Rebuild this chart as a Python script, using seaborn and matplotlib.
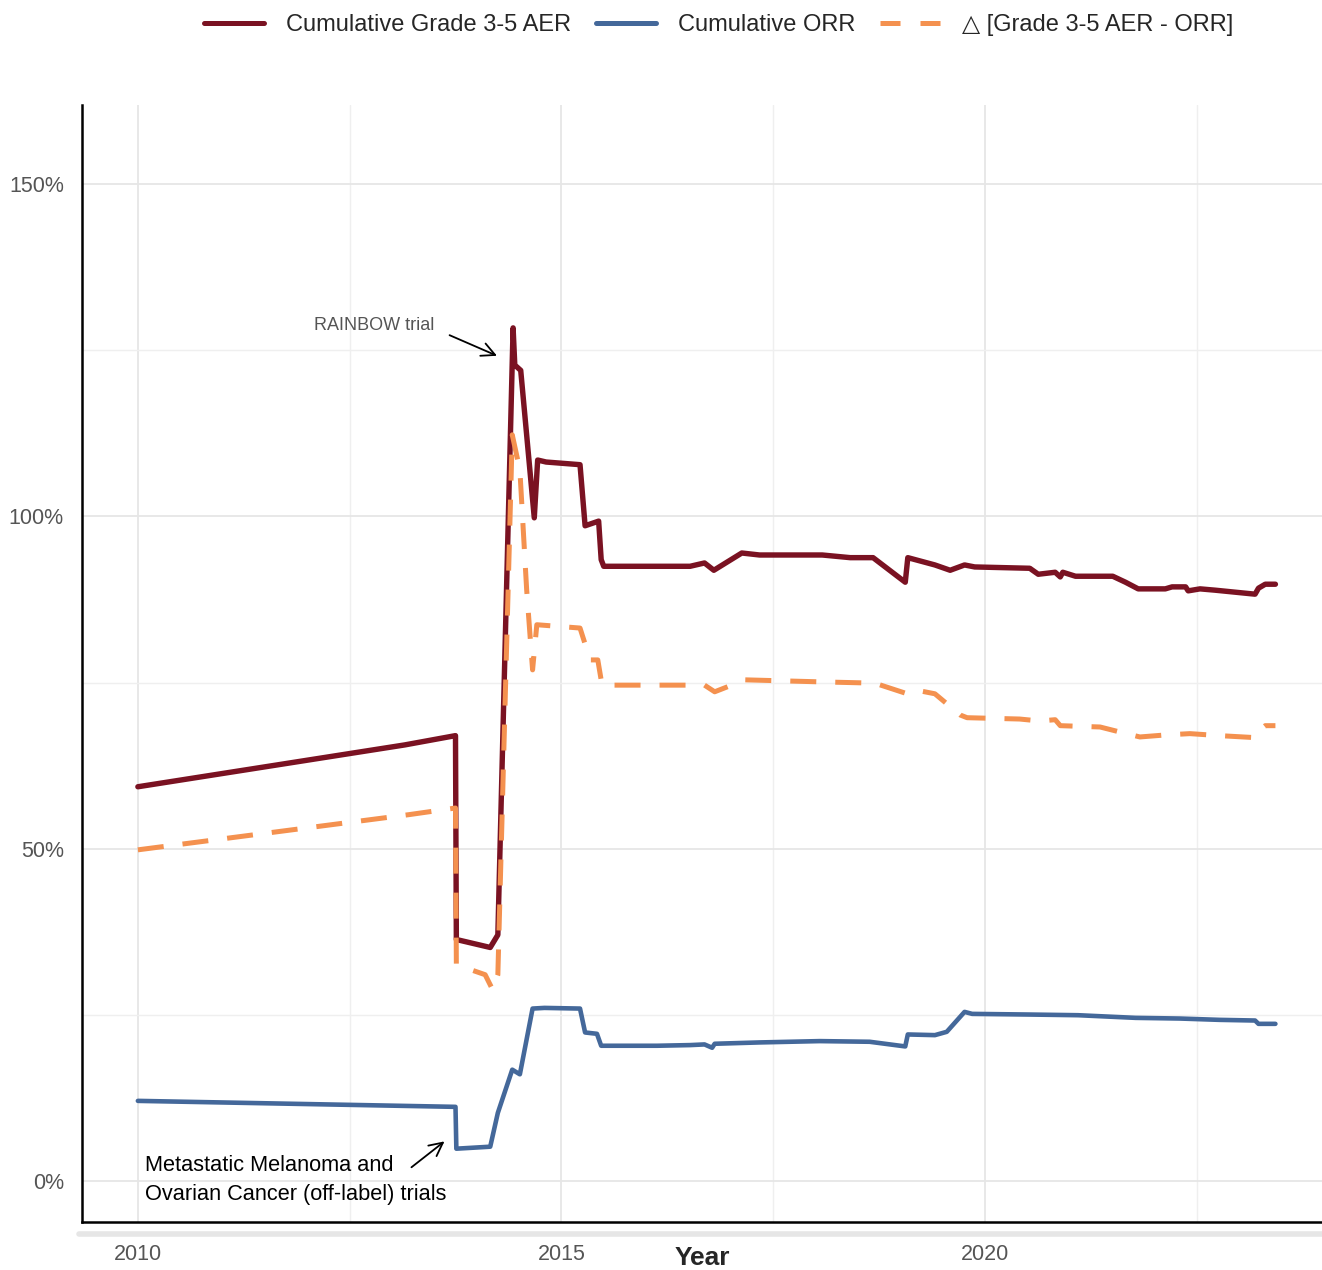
import matplotlib

matplotlib.use("Agg", force=True)
import matplotlib.pyplot as plt
import pandas as pd
import seaborn as sns
from matplotlib.lines import Line2D
from matplotlib.ticker import MultipleLocator, PercentFormatter

# Cumulative Grade 3-5 AER (%)
aer_year = [2010.0, 2013.15, 2013.75, 2013.76, 2014.16, 2014.25, 2014.43, 2014.45, 2014.52,
            2014.68, 2014.72, 2014.82, 2015.22, 2015.28, 2015.44, 2015.47, 2015.50, 2016.52,
            2016.69, 2016.80, 2017.13, 2017.34, 2018.08, 2018.41, 2018.68, 2019.06, 2019.09,
            2019.41, 2019.59, 2019.76, 2019.88, 2020.53, 2020.63, 2020.83, 2020.89, 2020.92,
            2021.07, 2021.51, 2021.66, 2021.81, 2022.13, 2022.21, 2022.37, 2022.40, 2022.54,
            2022.72, 2023.19, 2023.23, 2023.31, 2023.43]
aer_val = [59.3, 65.6, 67.0, 36.3, 35.1, 37.0, 128.4, 122.8, 122.0,
           99.8, 108.5, 108.2, 107.8, 98.6, 99.3, 93.5, 92.5, 92.5,
           93.0, 91.9, 94.5, 94.2, 94.2, 93.8, 93.8, 90.1, 93.8,
           92.7, 91.9, 92.7, 92.4, 92.2, 91.3, 91.6, 90.9, 91.6,
           91.0, 91.0, 90.1, 89.1, 89.1, 89.4, 89.4, 88.8, 89.1,
           88.9, 88.3, 89.2, 89.8, 89.8]

# Cumulative ORR (%)
orr_year = [2010.0, 2013.75, 2013.76, 2014.16, 2014.25, 2014.42, 2014.51, 2014.66, 2014.80,
            2015.22, 2015.28, 2015.42, 2015.47, 2016.13, 2016.52, 2016.69, 2016.78, 2016.81,
            2017.34, 2018.05, 2018.64, 2019.06, 2019.09, 2019.41, 2019.55, 2019.76, 2019.85,
            2020.53, 2021.10, 2021.78, 2022.30, 2022.77, 2023.19, 2023.23, 2023.43]
orr_val = [12.0, 11.1, 4.8, 5.1, 10.2, 16.7, 16.0, 25.9, 26.0,
           25.9, 22.3, 22.1, 20.3, 20.3, 20.4, 20.5, 20.0, 20.6,
           20.8, 21.0, 20.9, 20.2, 22.0, 21.9, 22.4, 25.4, 25.1,
           25.0, 24.9, 24.5, 24.4, 24.2, 24.1, 23.6, 23.6]

# Delta [Grade 3-5 AER - ORR] (%)
delta_year = [2010.0, 2013.2, 2013.75, 2013.76, 2014.10, 2014.19, 2014.25, 2014.42, 2014.51,
              2014.59, 2014.66, 2014.71, 2015.22, 2015.34, 2015.43, 2015.48, 2016.69, 2016.81,
              2017.17, 2018.05, 2018.70, 2019.06, 2019.17, 2019.41, 2019.71, 2019.79, 2020.41,
              2020.65, 2020.83, 2020.89, 2021.36, 2021.67, 2021.83, 2022.13, 2022.42, 2022.77,
              2023.19, 2023.25, 2023.31, 2023.43]
delta_val = [49.8, 55.1, 56.1, 32.5, 31.0, 28.7, 31.0, 112.3, 107.0,
             89.0, 76.9, 83.7, 83.2, 78.4, 78.4, 74.6, 74.6, 73.6,
             75.4, 75.1, 74.9, 73.4, 73.9, 73.3, 70.1, 69.7, 69.5,
             69.2, 69.4, 68.5, 68.3, 67.3, 66.8, 67.1, 67.3, 67.0,
             66.7, 67.9, 68.5, 68.5]

AER_COLOR = "#7a1222"
ORR_COLOR = "#44689a"
DELTA_COLOR = "#f4914f"

sns.set_theme(style="whitegrid")
plt.rcParams["font.family"] = ["Liberation Sans", "DejaVu Sans"]

fig = plt.figure(figsize=(13.22, 12.70), dpi=100)
ax = fig.add_axes([0.062, 0.038, 0.938, 0.879])

sns.lineplot(x=delta_year, y=delta_val, ax=ax, color=DELTA_COLOR, lw=3.6,
             sort=False, estimator=None, zorder=2)
ax.lines[-1].set_dashes([5.2, 3.8])
sns.lineplot(x=orr_year, y=orr_val, ax=ax, color=ORR_COLOR, lw=3.3,
             sort=False, estimator=None, zorder=3)
sns.lineplot(x=aer_year, y=aer_val, ax=ax, color=AER_COLOR, lw=3.9,
             sort=False, estimator=None, zorder=1)

ax.set_xlim(2009.34, 2023.98)
ax.set_ylim(-6.2, 161.9)
ax.xaxis.set_major_locator(MultipleLocator(5))
ax.xaxis.set_minor_locator(MultipleLocator(2.5))
ax.yaxis.set_major_locator(MultipleLocator(50))
ax.yaxis.set_minor_locator(MultipleLocator(25))
ax.yaxis.set_major_formatter(PercentFormatter(decimals=0))
ax.set_facecolor("white")
ax.grid(which="major", color="#e6e6e6", lw=1.3)
ax.grid(which="minor", color="#efefef", lw=1.0)
ax.tick_params(axis="both", which="both", length=0, labelsize=15.5, labelcolor="#555555")
ax.tick_params(axis="y", pad=13)
ax.tick_params(axis="x", pad=16)
for side in ["top", "right"]:
    ax.spines[side].set_visible(False)
for side in ["left", "bottom"]:
    ax.spines[side].set_visible(True)
    ax.spines[side].set_color("black")
    ax.spines[side].set_linewidth(1.8)

ax.set_xlabel("Year", fontsize=19, fontweight="bold", labelpad=-14)
ax.set_ylabel("")

# faint shadow band under the x axis
fig.add_artist(Line2D([0.06, 1.0], [1 - 1234 / 1270] * 2, color="#e6e6e6", lw=4,
                      transform=fig.transFigure))

ax.text(2013.5, 128.8, "RAINBOW trial", fontsize=13, color="#555555", ha="right", va="center")
ax.annotate("", xy=(2014.24, 124.2), xytext=(2013.68, 127.3),
            arrowprops=dict(arrowstyle="->", color="black", lw=1.3, mutation_scale=24,
                            shrinkA=0, shrinkB=0))
ax.text(2010.08, 0.1, "Metastatic Melanoma and\nOvarian Cancer (off-label) trials",
        fontsize=15.7, color="black", ha="left", va="center", linespacing=1.45)
ax.annotate("", xy=(2013.62, 5.9), xytext=(2013.23, 2.0),
            arrowprops=dict(arrowstyle="->", color="black", lw=1.3, mutation_scale=24,
                            shrinkA=0, shrinkB=0))

handles = [
    Line2D([], [], color=AER_COLOR, lw=3.6),
    Line2D([], [], color=ORR_COLOR, lw=3.6),
    Line2D([], [], color=DELTA_COLOR, lw=3.6, dashes=[4, 4]),
]
labels = ["Cumulative Grade 3-5 AER", "Cumulative ORR", "\u25b3 [Grade 3-5 AER - ORR]"]
fig.legend(handles, labels, loc="center", bbox_to_anchor=(0.5435, 0.98), ncol=3,
           frameon=False, fontsize=17, handlelength=2.54, columnspacing=1.06,
           handletextpad=0.93)

fig.savefig("out.png", dpi=100, facecolor="white")
